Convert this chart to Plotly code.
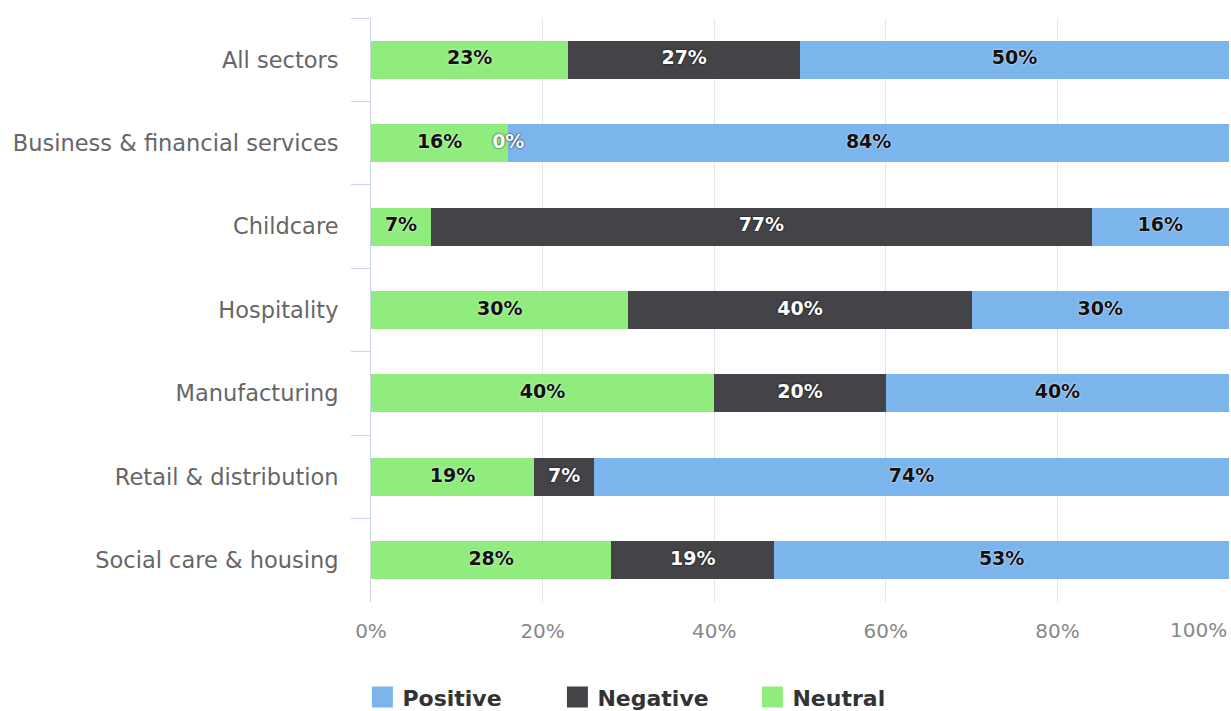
import plotly.graph_objects as go

# Survey responses by sector (share of respondents, %)
sectors = [
    "All sectors",
    "Business & financial services",
    "Childcare",
    "Hospitality",
    "Manufacturing",
    "Retail & distribution",
    "Social care & housing",
]
neutral = [23, 16, 7, 30, 40, 19, 28]
negative = [27, 0, 77, 40, 20, 7, 19]
positive = [50, 84, 16, 30, 40, 74, 53]

x_ticks = [0, 20, 40, 60, 80, 100]

FONT = "DejaVu Sans"
series = [
    ("Neutral", neutral, "#90ed7d", "#111111", "0px 0px 2px #ffffff"),
    ("Negative", negative, "#434348", "#ffffff", "0px 0px 2px #000000"),
    ("Positive", positive, "#7cb5ec", "#111111", "0px 0px 2px #ffffff"),
]

fig = go.Figure()

# stacked bars, left to right: Neutral, Negative, Positive
for name, vals, color, _, _ in series:
    fig.add_trace(go.Bar(
        y=sectors, x=vals, name=name, orientation="h",
        marker=dict(color=color, line=dict(width=0)),
        showlegend=False, hoverinfo="x+name",
    ))

# value labels centred on each segment
base = [0] * len(sectors)
for name, vals, color, tcolor, shadow in series:
    mids = [b + v / 2 for b, v in zip(base, vals)]
    fig.add_trace(go.Scatter(
        y=sectors, x=mids, mode="text",
        text=[f"{v}%" for v in vals],
        textposition="middle center",
        textfont=dict(family=FONT, size=19, color=tcolor, weight="bold", shadow=shadow),
        showlegend=False, hoverinfo="skip",
    ))
    base = [b + v for b, v in zip(base, vals)]

# legend entries (Positive, Negative, Neutral)
for name, vals, color, _, _ in reversed(series):
    fig.add_trace(go.Scatter(
        x=[None], y=[None], mode="markers", name=name,
        marker=dict(symbol="square", size=16, color=color,
                    line=dict(color=color, width=5)),
        showlegend=True,
    ))

fig.update_layout(
    width=1231, height=711,
    margin=dict(l=371, r=2, t=18, b=109, autoexpand=False),
    barmode="stack", bargap=0.545,
    plot_bgcolor="white", paper_bgcolor="white",
    font=dict(family=FONT, color="#666666"),
    legend=dict(
        orientation="h", traceorder="normal",
        x=-0.01, xanchor="left", y=-0.163, yanchor="middle",
        font=dict(family=FONT, size=22, color="#333333", weight="bold"),
        entrywidth=150, entrywidthmode="pixels",
        itemclick=False, itemdoubleclick=False,
    ),
    xaxis=dict(
        range=[0, 100], tickvals=x_ticks,
        ticktext=[f"{t}%" if t < 100 else "" for t in x_ticks],
        showgrid=True, gridcolor="#e6e6e6", gridwidth=1,
        zeroline=False, showline=False, ticks="",
        tickfont=dict(family=FONT, size=20, color="#888888"),
        ticklabelstandoff=15, fixedrange=True,
    ),
    yaxis=dict(
        categoryorder="array", categoryarray=sectors,
        range=[len(sectors) - 0.5, -0.5],
        showline=True, linecolor="#ccd6eb", linewidth=1,
        ticks="outside", ticklen=19, tickcolor="#ccd6eb", tickson="boundaries",
        showgrid=False, zeroline=False,
        tickfont=dict(family=FONT, size=22.5, color="#666666"),
        ticklabelstandoff=27, fixedrange=True,
    ),
)

# last x label sits flush with the right edge of the plot
fig.add_annotation(
    x=x_ticks[-1], y=0, xref="x", yref="paper", text=f"{x_ticks[-1]}%",
    showarrow=False, xanchor="right", yanchor="top", yshift=-14,
    font=dict(family=FONT, size=20, color="#888888"),
)

fig.write_html("out.html")
